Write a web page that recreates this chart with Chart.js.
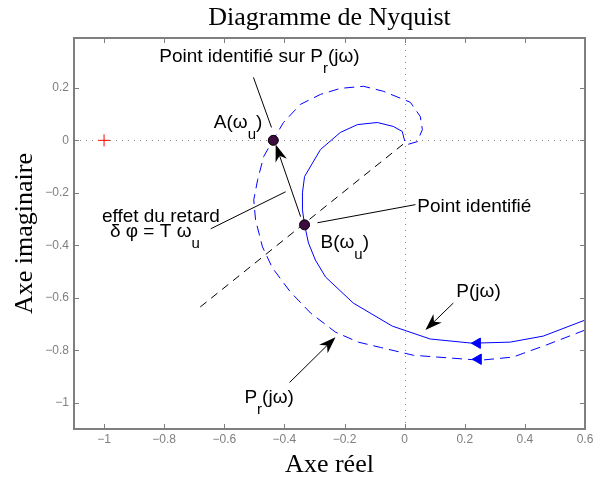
<!DOCTYPE html>
<html>
<head>
<meta charset="utf-8">
<script src="https://cdn.jsdelivr.net/npm/chart.js@4.4.1/dist/chart.umd.min.js"></script>
<style>
  html, body { margin: 0; padding: 0; background: #fff; }
</style>
</head>
<body>
<canvas id="nyquist" width="607" height="481"></canvas>
<script>
(function(){
  const xTicks = [-1, -0.8, -0.6, -0.4, -0.2, 0, 0.2, 0.4, 0.6];
  const yTicks = [-1, -0.8, -0.6, -0.4, -0.2, 0, 0.2];

  // P(jw), from low frequency (right) to the origin
  const pRe = [0.6, 0.461, 0.351, 0.225, 0.085, -0.041, -0.171, -0.263, -0.297, -0.320, -0.333, -0.340, -0.340, -0.333, -0.280, -0.214, -0.157, -0.091, -0.038, -0.008, 0];
  const pIm = [-0.685, -0.746, -0.769, -0.773, -0.757, -0.708, -0.620, -0.521, -0.456, -0.391, -0.322, -0.265, -0.200, -0.138, -0.035, 0.030, 0.060, 0.068, 0.053, 0.034, -0.002];

  // Pr(jw), with the delay
  const prRe = [0.6, 0.471, 0.360, 0.251, 0.029, -0.081, -0.154, -0.230, -0.313, -0.380, -0.440, -0.473, -0.496, -0.502, -0.489, -0.469, -0.437, -0.403, -0.347, -0.280, -0.214, -0.137, -0.071, 0.019, 0.052, 0.059, 0.042, 0.009];
  const prIm = [-0.723, -0.780, -0.826, -0.838, -0.819, -0.789, -0.769, -0.731, -0.658, -0.578, -0.486, -0.406, -0.303, -0.227, -0.150, -0.062, 0.003, 0.068, 0.137, 0.175, 0.198, 0.206, 0.187, 0.145, 0.091, 0.041, -0.005, -0.016];

  const delayRe = [-0.68, 0];
  const delayIm = [-0.635, -0.01];

  const markRe = [-0.437, -0.333];   // A(wu), B(wu)
  const markIm = [0.0, -0.322];

  const critRe = [-1];
  const critIm = [0];

  const dirRe = [0.242, 0.245];      // direction arrows on P and Pr
  const dirIm = [-0.773, -0.834];

  function zip(re, im) {
    return re.map((v, i) => ({x: v, y: im[i]}));
  }

  // annotations, in data units
  const leaders = [
    [[-0.503, 0.240], [-0.443, 0.049]],
    [[-0.645, -0.337], [-0.396, -0.196]],
    [[-0.290, -0.314], [0.036, -0.245]],
  ];
  const arrows = [
    [[-0.346, -0.291], [-0.429, -0.016]],
    [[0.162, -0.620], [0.069, -0.723]],
    [[-0.383, -0.923], [-0.230, -0.750]],
  ];
  const texts = [
    {at: [-0.483, 0.320], align: 'center', parts: [['Point identifié sur P'], ['r', 1], ['(jω)']]},
    {at: [-0.554, 0.068], align: 'center', parts: [['A(ω'], ['u', 1], [')']]},
    {at: [-0.811, -0.291], align: 'center', parts: [['effet du retard']]},
    {at: [-0.831, -0.349], align: 'center', parts: [['δ φ = T ω'], ['u', 1]]},
    {at: [0.042, -0.253], align: 'left', parts: [['Point identifié']]},
    {at: [-0.280, -0.391], align: 'left', parts: [['B(ω'], ['u', 1], [')']]},
    {at: [0.172, -0.578], align: 'left', parts: [['P(jω)']]},
    {at: [-0.533, -0.980], align: 'left', parts: [['P'], ['r', 1], ['(jω)']]},
  ];

  const frameColor = '#7f7f7f';

  function fmt(v) {
    return (v < 0 ? '\u2212' : '') + parseFloat(Math.abs(v).toFixed(1));
  }

  function drawRich(ctx, parts, x, y, align) {
    const main = '19px "Liberation Sans"';
    const sub = '15px "Liberation Sans"';
    let w = 0;
    parts.forEach(([t, s]) => { ctx.font = s ? sub : main; w += ctx.measureText(t).width; });
    let cx = align === 'center' ? x - w / 2 : (align === 'right' ? x - w : x);
    ctx.textAlign = 'left';
    ctx.textBaseline = 'middle';
    parts.forEach(([t, s]) => {
      ctx.font = s ? sub : main;
      ctx.fillText(t, cx, s ? y + 12 : y);
      cx += ctx.measureText(t).width;
    });
  }

  function drawArrow(ctx, x1, y1, x2, y2) {
    const ang = Math.atan2(y2 - y1, x2 - x1);
    const c = Math.cos(ang), s = Math.sin(ang);
    const L = 17, W = 6;
    ctx.beginPath();
    ctx.moveTo(x1, y1);
    ctx.lineTo(x2 - c * L * 0.7, y2 - s * L * 0.7);
    ctx.stroke();
    ctx.beginPath();
    ctx.moveTo(x2, y2);
    ctx.lineTo(x2 - c * L - s * W, y2 - s * L + c * W);
    ctx.lineTo(x2 - c * L * 0.7, y2 - s * L * 0.7);
    ctx.lineTo(x2 - c * L + s * W, y2 - s * L - c * W);
    ctx.closePath();
    ctx.fill();
  }

  const matlabAxes = {
    id: 'matlabAxes',
    beforeDatasetsDraw(chart) {
      const {ctx, chartArea: a, scales: {x, y}} = chart;
      const x0 = Math.round(x.getPixelForValue(0)) + 0.5;
      const y0 = Math.round(y.getPixelForValue(0)) + 0.5;
      ctx.save();
      ctx.strokeStyle = '#8a8a8a';
      ctx.lineWidth = 1;
      ctx.setLineDash([1, 5]);
      ctx.beginPath();
      ctx.moveTo(x0, a.top);
      ctx.lineTo(x0, a.bottom);
      ctx.moveTo(a.left, y0);
      ctx.lineTo(a.right, y0);
      ctx.stroke();
      ctx.restore();
    },
    afterDatasetsDraw(chart) {
      const {ctx, scales: {x, y}} = chart;
      const px = p => [x.getPixelForValue(p[0]), y.getPixelForValue(p[1])];
      ctx.save();
      ctx.strokeStyle = '#000';
      ctx.fillStyle = '#000';
      ctx.lineWidth = 1;
      leaders.forEach(([p1, p2]) => {
        const a = px(p1), b = px(p2);
        ctx.beginPath();
        ctx.moveTo(a[0], a[1]);
        ctx.lineTo(b[0], b[1]);
        ctx.stroke();
      });
      arrows.forEach(([p1, p2]) => {
        const a = px(p1), b = px(p2);
        drawArrow(ctx, a[0], a[1], b[0], b[1]);
      });
      texts.forEach(t => {
        const p = px(t.at);
        drawRich(ctx, t.parts, p[0], p[1], t.align);
      });
      ctx.restore();
    },
    afterDraw(chart) {
      const {ctx, chartArea: a, scales: {x, y}} = chart;
      ctx.save();
      ctx.strokeStyle = frameColor;
      ctx.lineWidth = 1;
      ctx.beginPath();
      xTicks.forEach(v => {
        const p = Math.round(x.getPixelForValue(v)) + 0.5;
        ctx.moveTo(p, a.bottom); ctx.lineTo(p, a.bottom - 5);
        ctx.moveTo(p, a.top); ctx.lineTo(p, a.top + 5);
      });
      yTicks.forEach(v => {
        const p = Math.round(y.getPixelForValue(v)) + 0.5;
        ctx.moveTo(a.left, p); ctx.lineTo(a.left + 5, p);
        ctx.moveTo(a.right, p); ctx.lineTo(a.right - 5, p);
      });
      ctx.stroke();
      ctx.lineWidth = 2;
      ctx.strokeRect(a.left, a.top, a.right - a.left, a.bottom - a.top);
      ctx.restore();
    }
  };

  const tickFont = {family: 'Liberation Sans', size: 12};
  const titleFont = {family: 'Liberation Serif', size: 26, weight: 'normal', lineHeight: 1};

  new Chart(document.getElementById('nyquist'), {
    type: 'scatter',
    data: {
      datasets: [
        {data: zip(markRe, markIm), pointRadius: 5, backgroundColor: '#3d0b3d', borderColor: '#000', borderWidth: 1},
        {data: zip(critRe, critIm), pointStyle: 'cross', pointRadius: 6, borderColor: '#ff0000', borderWidth: 1},
        {data: zip(dirRe, dirIm), pointStyle: 'triangle', rotation: -90, pointRadius: 6, backgroundColor: '#0000ff', borderColor: '#0000ff', borderWidth: 1},
        {data: zip(pRe, pIm), showLine: true, pointRadius: 0, borderColor: '#0000ff', borderWidth: 1},
        {data: zip(prRe, prIm), showLine: true, pointRadius: 0, borderColor: '#0000ff', borderWidth: 1, borderDash: [10, 6]},
        {data: zip(delayRe, delayIm), showLine: true, pointRadius: 0, borderColor: '#000', borderWidth: 1, borderDash: [8, 6]},
      ]
    },
    options: {
      responsive: false,
      animation: false,
      devicePixelRatio: 1,
      layout: {padding: {left: 0, right: 22, top: 0, bottom: 0}},
      plugins: {
        legend: {display: false},
        tooltip: {enabled: false},
        title: {
          display: true,
          fullSize: false,
          text: 'Diagramme de Nyquist',
          color: '#000',
          font: titleFont,
          padding: {top: 5, bottom: 7}
        }
      },
      scales: {
        x: {
          type: 'linear',
          min: -1.1,
          max: 0.6,
          afterBuildTicks: s => { s.ticks = xTicks.map(v => ({value: v})); },
          afterFit: s => { s.height = 52; },
          grid: {display: false, drawTicks: false},
          border: {display: false},
          ticks: {padding: 3, color: frameColor, font: tickFont, maxRotation: 0, callback: fmt},
          title: {display: true, text: 'Axe réel', color: '#000', font: titleFont, padding: {top: 0, bottom: 3}}
        },
        y: {
          type: 'linear',
          min: -1.1,
          max: 0.39,
          afterBuildTicks: s => { s.ticks = yTicks.map(v => ({value: v})); },
          afterFit: s => { s.width = 74; },
          grid: {display: false, drawTicks: false},
          border: {display: false},
          ticks: {padding: 5, color: frameColor, font: tickFont, callback: fmt},
          title: {display: true, text: 'Axe imaginaire', color: '#000', font: titleFont, padding: {top: 12, bottom: 0}}
        }
      }
    },
    plugins: [matlabAxes]
  });
})();
</script>
</body>
</html>
